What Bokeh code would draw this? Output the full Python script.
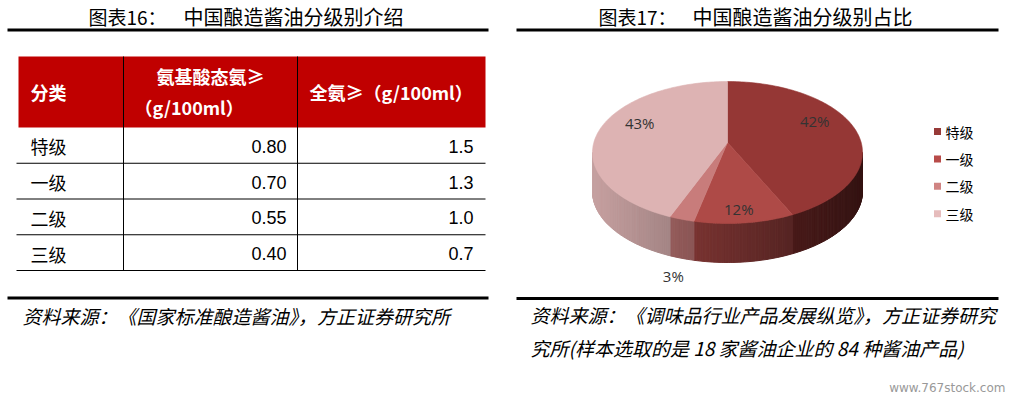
import numpy as np
from bokeh.plotting import figure
from bokeh.models import Range1d
from bokeh.core.properties import value
from bokeh.embed import file_html
from bokeh.resources import INLINE

# ---------------- data ----------------
title_left_no = "图表16："
title_left = "中国酿造酱油分级别介绍"
title_right_no = "图表17："
title_right = "中国酿造酱油分级别占比"
header_cols = ["分类", "氨基酸态氨≥", "（g/100ml）", "全氨≥（g/100ml）"]
grades = ["特级", "一级", "二级", "三级"]
amino_n = [0.80, 0.70, 0.55, 0.40]
total_n = [1.5, 1.3, 1.0, 0.7]
share_pct = [42, 12, 3, 43]
top_colors = ["#953735", "#AE4A47", "#C87C7B", "#DDB3B3"]
legend_colors = ["#973A38", "#B84B49", "#D08483", "#E6BCBC"]
source_left = "资料来源：《国家标准酿造酱油》，方正证券研究所"
source_right = ["资料来源：《调味品行业产品发展纵览》，方正证券研究",
                "究所(样本选取的是 18 家酱油企业的 84 种酱油产品)"]
watermark = "www.767stock.com"

# ---------------- figure ----------------
W, H = 1014, 399
p = figure(width=W, height=H, x_range=Range1d(0, W), y_range=Range1d(0, H),
           output_backend="svg", toolbar_location=None,
           x_axis_location=None, y_axis_location=None, min_border=0)
p.xgrid.visible = False
p.ygrid.visible = False
p.outline_line_color = None
p.background_fill_color = "white"
p.border_fill_color = "white"


def Y(y):
    return H - y


CJK = "Noto Sans CJK SC"


def txt(x, y, s, size, font=CJK, color="black", align="left", style="normal"):
    p.text(x=[x], y=[Y(y)], text=[s], text_font=value(font), text_font_size=f"{size}px",
           text_color=color, text_align=align, text_baseline="middle", text_font_style=style)


def hline(x0, x1, y, w, color="black"):
    p.segment(x0=[x0], y0=[Y(y)], x1=[x1], y1=[Y(y)], line_width=w, line_color=color)


def vline(x, y0, y1, w, color="black"):
    p.segment(x0=[x], y0=[Y(y0)], x1=[x], y1=[Y(y1)], line_width=w, line_color=color)


# ---------------- titles and rules ----------------
txt(88, 16, title_left_no, 19)
txt(183, 16, title_left, 20)
txt(598, 16, title_right_no, 19)
txt(692, 16, title_right, 20)
hline(7, 488, 29.5, 3)
hline(516, 998, 29.5, 3)
hline(7, 488, 297.5, 3)
hline(516, 998, 298, 3)

# ---------------- table ----------------
TL, TR = 18, 485
C1, C2 = 123, 297
HT, HB = 56, 127
ROW_H = 35.75
p.quad(left=[TL], right=[TR], top=[Y(HT)], bottom=[Y(HB)], fill_color="#C00000", line_color=None)
n_rows = len(grades)
row_bottoms = [HB + (i + 1) * ROW_H for i in range(n_rows)]
for yb in row_bottoms:
    hline(16, TR, yb, 1)
vline(C1, HT, row_bottoms[-1], 1)
vline(C2, HT, row_bottoms[-1], 1)

hc = (HT + HB) / 2
txt(30, hc, header_cols[0], 18, color="white", style="bold")
txt((C1 + C2) / 2, hc - 16, header_cols[1], 18, color="white", style="bold", align="center")
txt(134, hc + 15, header_cols[2], 18, color="white", style="bold")
txt(309, hc, header_cols[3], 18, color="white", style="bold")

for i, g in enumerate(grades):
    yc = HB + (i + 0.5) * ROW_H + 1
    txt(30, yc, g, 18)
    txt(286, yc, f"{amino_n[i]:.2f}", 18, font="Liberation Sans", align="right")
    txt(473, yc, f"{total_n[i]:.1f}", 18, font="Liberation Sans", align="right")

txt(22, 315, source_left, 19, style="italic")

# ---------------- 3D pie ----------------
CX, CY, RX, RY, D = 727, 152, 135, 71, 39
AX, AY = 727, 142


def ell(th):
    return CX + RX * np.sin(th), CY - RY * np.cos(th)


def shade(hexc, f):
    r, g, b = int(hexc[1:3], 16), int(hexc[3:5], 16), int(hexc[5:7], 16)
    return "#%02x%02x%02x" % (int(min(255, r * f)), int(min(255, g * f)), int(min(255, b * f)))


fr = np.array(share_pct, dtype=float) / sum(share_pct)
edges = np.concatenate([[0], np.cumsum(fr)]) * 2 * np.pi

side_xs, side_ys, side_cols = [], [], []
for i in range(len(share_pct)):
    a0, a1 = max(edges[i], np.pi / 2), min(edges[i + 1], 3 * np.pi / 2)
    if a1 <= a0:
        continue
    n = max(2, int((a1 - a0) / np.radians(1)) + 1)
    ts = np.linspace(a0, a1, n + 1)
    for t0, t1 in zip(ts[:-1], ts[1:]):
        x0, y0 = ell(t0)
        x1, y1 = ell(t1)
        side_xs.append([x0, x1, x1, x0])
        side_ys.append([Y(y0), Y(y1), Y(y1 + D), Y(y0 + D)])
        xm = (x0 + x1) / 2
        f = 0.9 - 0.55 * (xm - (CX - RX)) / (2 * RX)
        side_cols.append(shade(top_colors[i], f))
p.patches(side_xs, side_ys, fill_color=side_cols, line_color=side_cols, line_width=1.0)

top_xs, top_ys = [], []
for i in range(len(share_pct)):
    ts = np.linspace(edges[i], edges[i + 1], max(3, int(fr[i] * 360) + 2))
    xs = [AX] + [ell(t)[0] for t in ts]
    ys = [Y(AY)] + [Y(ell(t)[1]) for t in ts]
    top_xs.append(xs)
    top_ys.append(ys)
p.patches(top_xs, top_ys, fill_color=top_colors, line_color=top_colors, line_width=0.6)

# labels
LCY = 138
for i, pct in enumerate(share_pct):
    mid = (edges[i] + edges[i + 1]) / 2
    if pct >= 5:
        lx, ly = AX + 90 * np.sin(mid), LCY - 71 * np.cos(mid)
    else:
        lx, ly = AX + 160 * np.sin(mid), LCY - 146 * np.cos(mid)
    txt(lx, ly, f"{pct}%", 15, font="Open Sans", color="#333333", align="center")

# legend
for i, g in enumerate(grades):
    ly = 131 + i * 27.4
    p.quad(left=[933.5], right=[940.5], top=[Y(ly - 3.5)], bottom=[Y(ly + 3.5)],
           fill_color=legend_colors[i], line_color=None)
    txt(945, ly, g, 14)

txt(530, 314, source_right[0], 19, style="italic")
txt(530, 347, source_right[1], 19, style="italic")
txt(1005, 387, watermark, 12, font="DejaVu Sans", color="#999999", align="right")

open("out.html", "w").write(file_html(p, INLINE))
